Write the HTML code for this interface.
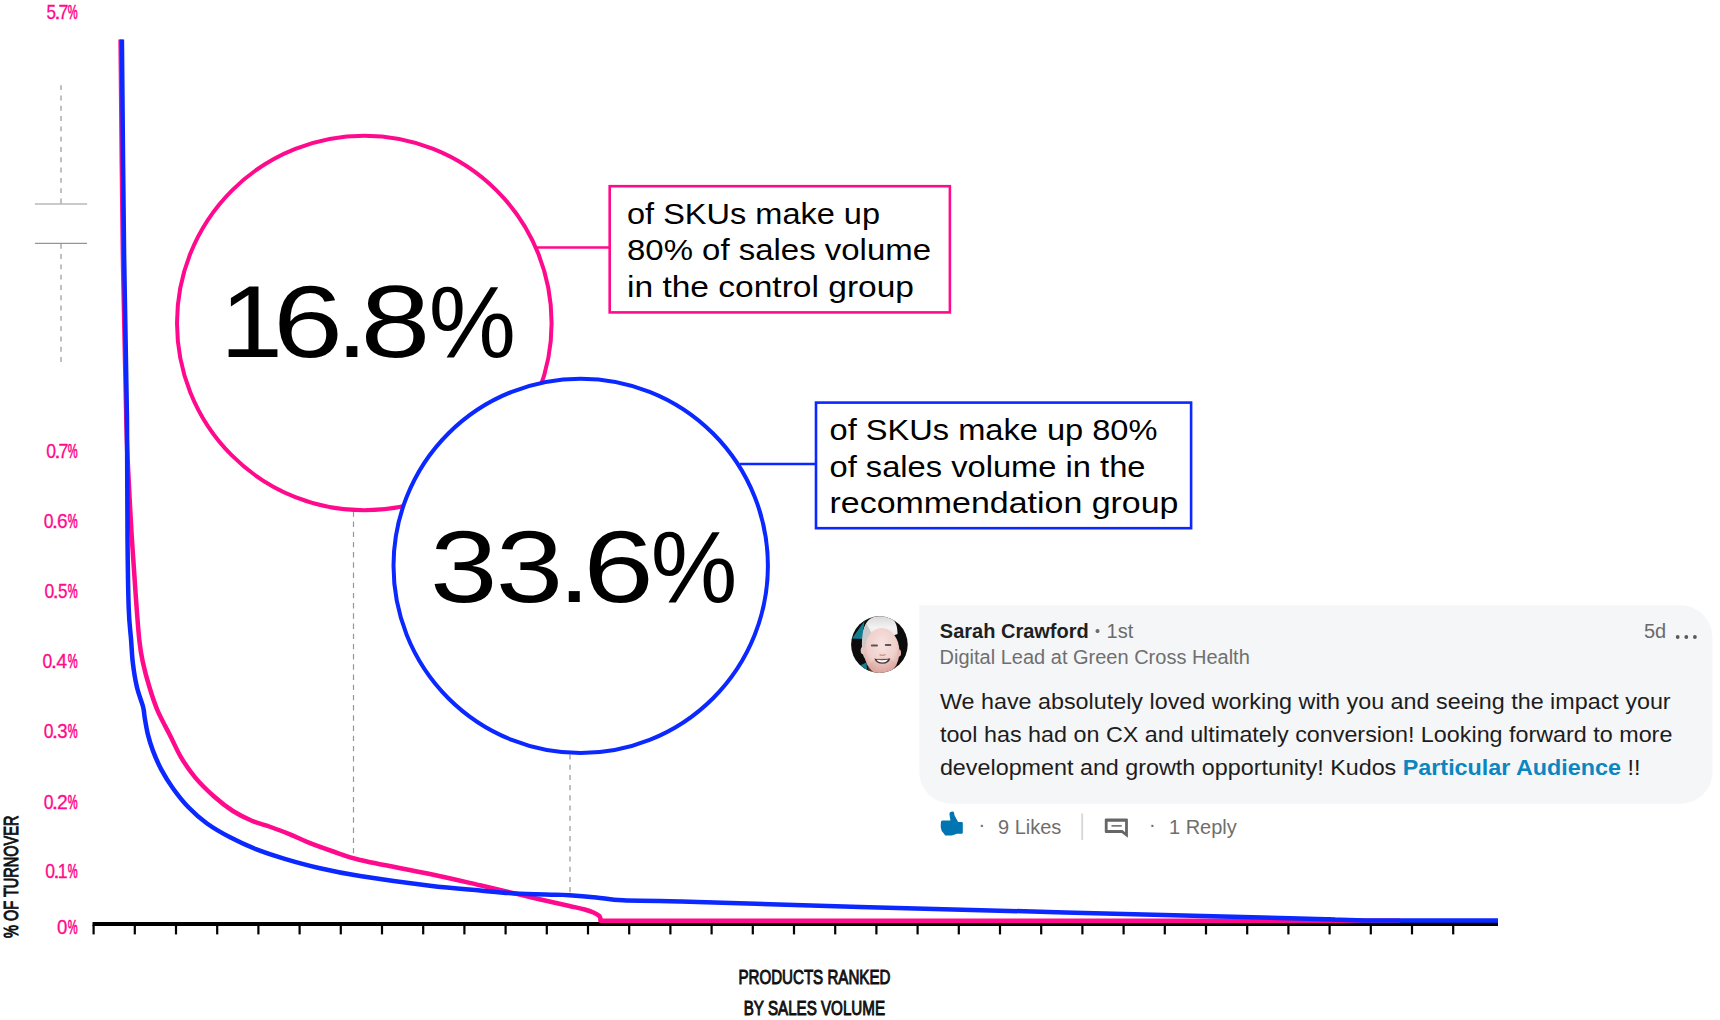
<!DOCTYPE html>
<html lang="en"><head><meta charset="utf-8"><title>Long tail chart</title>
<style>
html,body{margin:0;padding:0;background:#fff;}
body{width:1720px;height:1020px;overflow:hidden;font-family:"Liberation Sans",sans-serif;}
svg{display:block;position:absolute;left:0;top:0;}
svg text{font-family:"Liberation Sans",sans-serif;}
</style></head><body>
<svg width="1720" height="1020" viewBox="0 0 1720 1020">
<rect width="1720" height="1020" fill="#fff"/>

<!-- grey broken-axis marks -->
<g stroke="#969696" stroke-width="1.2" fill="none">
<line x1="61" y1="85.2" x2="61" y2="203.5" stroke-dasharray="4.9 5.4"/>
<line x1="61" y1="243.8" x2="61" y2="363" stroke-dasharray="4.9 5.4"/>
<line x1="34.9" y1="204" x2="87.1" y2="204"/>
<line x1="34.9" y1="243.35" x2="87.1" y2="243.35"/>
<line x1="353.5" y1="511.3" x2="353.5" y2="857" stroke-dasharray="5.4 4.8"/>
<line x1="570" y1="754.5" x2="570" y2="893.5" stroke-dasharray="5.1 5.1"/>
</g>

<!-- axis -->
<g fill="#000">
<rect x="92.5" y="922" width="1405.5" height="4"/>
<rect x="92.50" y="925" width="2.2" height="9.4"/><rect x="133.70" y="925" width="2.2" height="9.4"/><rect x="174.90" y="925" width="2.2" height="9.4"/><rect x="216.10" y="925" width="2.2" height="9.4"/><rect x="257.30" y="925" width="2.2" height="9.4"/><rect x="298.50" y="925" width="2.2" height="9.4"/><rect x="339.70" y="925" width="2.2" height="9.4"/><rect x="380.90" y="925" width="2.2" height="9.4"/><rect x="422.10" y="925" width="2.2" height="9.4"/><rect x="463.30" y="925" width="2.2" height="9.4"/><rect x="504.50" y="925" width="2.2" height="9.4"/><rect x="545.70" y="925" width="2.2" height="9.4"/><rect x="586.90" y="925" width="2.2" height="9.4"/><rect x="628.10" y="925" width="2.2" height="9.4"/><rect x="669.30" y="925" width="2.2" height="9.4"/><rect x="710.50" y="925" width="2.2" height="9.4"/><rect x="751.70" y="925" width="2.2" height="9.4"/><rect x="792.90" y="925" width="2.2" height="9.4"/><rect x="834.10" y="925" width="2.2" height="9.4"/><rect x="875.30" y="925" width="2.2" height="9.4"/><rect x="916.50" y="925" width="2.2" height="9.4"/><rect x="957.70" y="925" width="2.2" height="9.4"/><rect x="998.90" y="925" width="2.2" height="9.4"/><rect x="1040.10" y="925" width="2.2" height="9.4"/><rect x="1081.30" y="925" width="2.2" height="9.4"/><rect x="1122.50" y="925" width="2.2" height="9.4"/><rect x="1163.70" y="925" width="2.2" height="9.4"/><rect x="1204.90" y="925" width="2.2" height="9.4"/><rect x="1246.10" y="925" width="2.2" height="9.4"/><rect x="1287.30" y="925" width="2.2" height="9.4"/><rect x="1328.50" y="925" width="2.2" height="9.4"/><rect x="1369.70" y="925" width="2.2" height="9.4"/><rect x="1410.90" y="925" width="2.2" height="9.4"/><rect x="1452.10" y="925" width="2.2" height="9.4"/>
</g>

<!-- y labels -->
<g fill="#ff0a8c" font-size="20.4" stroke="#ff0a8c" stroke-width="0.3">
<text y="19"><tspan x="46.62" textLength="9.50" lengthAdjust="spacingAndGlyphs">5</tspan><tspan x="54.39" textLength="6.42" lengthAdjust="spacingAndGlyphs">.</tspan><tspan x="58.39" textLength="9.91" lengthAdjust="spacingAndGlyphs">7</tspan><tspan x="67.70" textLength="9.89" lengthAdjust="spacingAndGlyphs" stroke-width="0.7">%</tspan></text>
<text y="458"><tspan x="46.31" textLength="9.77" lengthAdjust="spacingAndGlyphs">0</tspan><tspan x="54.39" textLength="6.42" lengthAdjust="spacingAndGlyphs">.</tspan><tspan x="58.39" textLength="9.91" lengthAdjust="spacingAndGlyphs">7</tspan><tspan x="67.70" textLength="9.89" lengthAdjust="spacingAndGlyphs" stroke-width="0.7">%</tspan></text>
<text y="528"><tspan x="43.71" textLength="9.77" lengthAdjust="spacingAndGlyphs">0</tspan><tspan x="51.79" textLength="6.42" lengthAdjust="spacingAndGlyphs">.</tspan><tspan x="56.93" textLength="10.61" lengthAdjust="spacingAndGlyphs">6</tspan><tspan x="67.70" textLength="9.89" lengthAdjust="spacingAndGlyphs" stroke-width="0.7">%</tspan></text>
<text y="598"><tspan x="44.41" textLength="9.77" lengthAdjust="spacingAndGlyphs">0</tspan><tspan x="52.49" textLength="6.42" lengthAdjust="spacingAndGlyphs">.</tspan><tspan x="57.92" textLength="9.50" lengthAdjust="spacingAndGlyphs">5</tspan><tspan x="67.70" textLength="9.89" lengthAdjust="spacingAndGlyphs" stroke-width="0.7">%</tspan></text>
<text y="668"><tspan x="42.61" textLength="9.77" lengthAdjust="spacingAndGlyphs">0</tspan><tspan x="50.69" textLength="6.42" lengthAdjust="spacingAndGlyphs">.</tspan><tspan x="56.35" textLength="10.93" lengthAdjust="spacingAndGlyphs">4</tspan><tspan x="67.70" textLength="9.89" lengthAdjust="spacingAndGlyphs" stroke-width="0.7">%</tspan></text>
<text y="738"><tspan x="43.71" textLength="9.77" lengthAdjust="spacingAndGlyphs">0</tspan><tspan x="51.79" textLength="6.42" lengthAdjust="spacingAndGlyphs">.</tspan><tspan x="57.19" textLength="10.32" lengthAdjust="spacingAndGlyphs">3</tspan><tspan x="67.70" textLength="9.89" lengthAdjust="spacingAndGlyphs" stroke-width="0.7">%</tspan></text>
<text y="809"><tspan x="43.71" textLength="9.77" lengthAdjust="spacingAndGlyphs">0</tspan><tspan x="51.79" textLength="6.42" lengthAdjust="spacingAndGlyphs">.</tspan><tspan x="56.93" textLength="10.74" lengthAdjust="spacingAndGlyphs">2</tspan><tspan x="67.70" textLength="9.89" lengthAdjust="spacingAndGlyphs" stroke-width="0.7">%</tspan></text>
<text y="878"><tspan x="45.31" textLength="9.77" lengthAdjust="spacingAndGlyphs">0</tspan><tspan x="53.39" textLength="6.42" lengthAdjust="spacingAndGlyphs">.</tspan><tspan x="57.76" textLength="9.80" lengthAdjust="spacingAndGlyphs">1</tspan><tspan x="67.70" textLength="9.89" lengthAdjust="spacingAndGlyphs" stroke-width="0.7">%</tspan></text>
<text y="934"><tspan x="57.07" textLength="10.35" lengthAdjust="spacingAndGlyphs">0</tspan><tspan x="67.70" textLength="9.89" lengthAdjust="spacingAndGlyphs" stroke-width="0.7">%</tspan></text>

</g>
<text transform="translate(18.4 938) rotate(-90)" font-size="19.5" fill="#111" stroke="#111" stroke-width="1" textLength="122.5" lengthAdjust="spacingAndGlyphs">% OF TURNOVER</text>
<g fill="#111" stroke="#111" stroke-width="1" font-size="20" text-anchor="middle">
<text x="814.4" y="984" textLength="152" lengthAdjust="spacingAndGlyphs">PRODUCTS RANKED</text>
<text x="814.4" y="1015.2" textLength="141.3" lengthAdjust="spacingAndGlyphs">BY SALES VOLUME</text>
</g>

<!-- circles -->
<circle cx="364.3" cy="323" r="187.3" fill="#fff" stroke="#ff0a8c" stroke-width="4"/>
<line x1="536" y1="247.6" x2="609" y2="247.6" stroke="#ff0a8c" stroke-width="2.5"/>
<circle cx="580.7" cy="565.85" r="187.2" fill="#fff" stroke="#0a28ff" stroke-width="4"/>
<line x1="740" y1="464" x2="816" y2="464" stroke="#0a28ff" stroke-width="2.5"/>

<!-- curves -->
<path d="M120.60 39.50 C120.98 75.42 121.95 191.58 122.90 255.00 C123.85 318.42 125.45 384.67 126.30 420.00 C127.15 455.33 127.08 447.40 128.00 467.00 C128.92 486.60 130.50 516.02 131.80 537.60 C133.10 559.18 134.55 579.43 135.80 596.50 C137.05 613.57 138.13 629.08 139.30 640.00 C140.47 650.92 141.12 654.17 142.80 662.00 C144.48 669.83 146.93 678.90 149.40 687.00 C151.87 695.10 154.07 702.35 157.60 710.60 C161.13 718.85 166.67 728.67 170.60 736.50 C174.53 744.33 177.08 750.75 181.20 757.60 C185.32 764.45 189.82 771.12 195.30 777.60 C200.78 784.08 207.83 790.93 214.10 796.50 C220.37 802.07 226.62 806.97 232.90 811.00 C239.18 815.03 245.52 818.03 251.80 820.70 C258.08 823.37 264.33 824.77 270.60 827.00 C276.87 829.23 283.13 831.53 289.40 834.10 C295.67 836.67 301.13 839.58 308.20 842.40 C315.27 845.22 323.17 848.07 331.80 851.00 C340.43 853.93 343.63 856.17 360.00 860.00 C376.37 863.83 410.00 869.78 430.00 874.00 C450.00 878.22 466.43 882.20 480.00 885.30 C493.57 888.40 501.32 890.23 511.40 892.60 C521.48 894.97 530.82 897.27 540.50 899.50 C550.18 901.73 562.13 904.33 569.50 906.00 C576.87 907.67 580.62 908.37 584.70 909.50 C588.78 910.63 591.57 911.72 594.00 912.80 C596.43 913.88 598.23 915.05 599.30 916.00 C600.37 916.95 600.22 918.08 600.40 918.50 L600.4 920.7 H1400" fill="none" stroke="#ff0a8c" stroke-width="4.5" stroke-linejoin="round"/>
<path d="M121.90 39.50 C122.27 75.42 123.25 191.58 124.10 255.00 C124.95 318.42 126.43 372.90 127.00 420.00 C127.57 467.10 127.22 506.27 127.50 537.60 C127.78 568.93 128.10 590.93 128.70 608.00 C129.30 625.07 130.40 630.75 131.10 640.00 C131.80 649.25 131.93 655.67 132.90 663.50 C133.87 671.33 135.20 679.75 136.90 687.00 C138.60 694.25 141.80 701.90 143.10 707.00 C144.40 712.10 143.92 713.08 144.70 717.60 C145.48 722.12 146.43 728.60 147.80 734.10 C149.17 739.60 150.67 744.72 152.90 750.60 C155.13 756.48 157.87 763.13 161.20 769.40 C164.53 775.67 168.40 781.93 172.90 788.20 C177.40 794.47 182.52 801.12 188.20 807.00 C193.88 812.88 199.93 818.40 207.00 823.50 C214.07 828.60 222.35 833.28 230.60 837.60 C238.85 841.92 247.48 845.87 256.50 849.40 C265.52 852.93 274.12 855.67 284.70 858.80 C295.28 861.93 307.45 865.33 320.00 868.20 C332.55 871.07 341.67 873.08 360.00 876.00 C378.33 878.92 410.00 883.33 430.00 885.75 C450.00 888.17 465.85 889.23 480.00 890.50 C494.15 891.77 502.30 892.70 514.90 893.40 C527.50 894.10 546.50 894.40 555.60 894.70 C564.70 895.00 562.72 894.75 569.50 895.20 C576.28 895.65 587.38 896.55 596.30 897.40 C605.22 898.25 609.05 899.62 623.00 900.30 C636.95 900.98 640.50 900.38 680.00 901.50 C719.50 902.62 758.33 904.22 860.00 907.00 C961.67 909.78 1211.67 916.13 1290.00 918.20 C1368.33 920.27 1317.50 919.03 1330.00 919.40 C1342.50 919.77 1358.00 920.20 1365.00 920.40 C1372.00 920.60 1369.50 920.57 1372.00 920.60 C1374.50 920.63 1359.00 920.60 1380.00 920.60 C1401.00 920.60 1478.33 920.60 1498.00 920.60" fill="none" stroke="#0a28ff" stroke-width="4.5" stroke-linejoin="round"/>

<!-- big numbers -->
<g fill="#000" font-size="101.2">
<text y="357.1"><tspan x="220.10" textLength="63.00" lengthAdjust="spacingAndGlyphs">1</tspan><tspan x="273.10" textLength="70.06" lengthAdjust="spacingAndGlyphs">6</tspan><tspan x="336.30" textLength="31.48" lengthAdjust="spacingAndGlyphs">.</tspan><tspan x="360.50" textLength="69.83" lengthAdjust="spacingAndGlyphs">8</tspan><tspan x="428.70" textLength="87.19" lengthAdjust="spacingAndGlyphs">%</tspan></text>
<text y="602.1" font-size="102"><tspan x="430.10" textLength="67.48" lengthAdjust="spacingAndGlyphs">3</tspan><tspan x="495.70" textLength="67.48" lengthAdjust="spacingAndGlyphs">3</tspan><tspan x="558.30" textLength="32.05" lengthAdjust="spacingAndGlyphs">.</tspan><tspan x="583.25" textLength="70.63" lengthAdjust="spacingAndGlyphs">6</tspan><tspan x="650.70" textLength="86.55" lengthAdjust="spacingAndGlyphs">%</tspan></text>
</g>

<!-- callout boxes -->
<rect x="609.7" y="186.2" width="340.2" height="126.2" fill="#fff" stroke="#ff0a8c" stroke-width="2.6"/>
<g fill="#000" font-size="29">
<text x="627" y="223.6" textLength="253" lengthAdjust="spacingAndGlyphs">of SKUs make up</text>
<text x="627" y="260.4" textLength="304" lengthAdjust="spacingAndGlyphs">80% of sales volume</text>
<text x="627" y="296.8" textLength="287" lengthAdjust="spacingAndGlyphs">in the control group</text>
</g>
<rect x="816" y="402.6" width="375.1" height="125.6" fill="#fff" stroke="#0a28ff" stroke-width="2.6"/>
<g fill="#000" font-size="29">
<text x="829.5" y="439.7" textLength="328" lengthAdjust="spacingAndGlyphs">of SKUs make up 80%</text>
<text x="829.5" y="476.5" textLength="316" lengthAdjust="spacingAndGlyphs">of sales volume in the</text>
<text x="829.5" y="512.8" textLength="349" lengthAdjust="spacingAndGlyphs">recommendation group</text>
</g>

<!-- LinkedIn comment -->
<path d="M919.3 605.3 H1680.5 A32 32 0 0 1 1712.5 637.3 V771.8 A32 32 0 0 1 1680.5 803.8 H951.3 A32 32 0 0 1 919.3 771.8 Z" fill="#f5f6f8"/>
<defs>
<clipPath id="avc"><circle cx="879.4" cy="644.6" r="28.3"/></clipPath>
<radialGradient id="facegrad" cx="0.5" cy="0.35" r="0.75"><stop offset="0" stop-color="#f7e3e1"/><stop offset="0.55" stop-color="#efcfcb"/><stop offset="1" stop-color="#d08f86"/></radialGradient>
<linearGradient id="hairgrad" x1="0" y1="0" x2="0" y2="1"><stop offset="0" stop-color="#d9d9d9"/><stop offset="0.5" stop-color="#f4f2f2"/><stop offset="1" stop-color="#f2dcd9"/></linearGradient>
</defs>
<g clip-path="url(#avc)">
<rect x="850" y="615" width="60" height="60" fill="#0c0c0c"/>
<path d="M864.5 621 L852 638.5 L862.5 639 L863.5 629 Z" fill="#157c8e"/>
<path d="M861 665 L866.5 662.5 L867 669 L863 669 Z" fill="#157c8e"/>
<path d="M863 640 C862.5 628 866 620 873 617.2 C880 615 888 615.4 892 618.5 C896 621.5 897.5 627 897.6 634 L880 640 Z" fill="url(#hairgrad)"/>
<path d="M862 648 C861.6 637 863 628 866.5 623.5 L873 636 L868 662 C864 659 862.2 654 862 648 Z" fill="#c9c9c9"/>
<ellipse cx="881.8" cy="651.5" rx="17.6" ry="23.5" fill="url(#facegrad)"/>
<ellipse cx="863" cy="650.5" rx="2.3" ry="3.8" fill="#e8c4be"/>
<ellipse cx="899.2" cy="653" rx="1.8" ry="3.4" fill="#e3b9b2"/>
<path d="M868 668 C871 660 877 657.5 882.5 657.5 C889 657.5 894 660 897.5 667 L896 676 L869 676 Z" fill="#d79a92" opacity="0.3"/>
<rect x="870.8" y="644.4" width="7.2" height="2" rx="1" fill="#5a5557"/>
<rect x="884.8" y="644" width="6.6" height="2" rx="1" fill="#5a5557"/>
<path d="M874.3 658.4 Q882.5 660.3 890.4 658.2 Q889 663.6 882.6 663.8 Q876 663.6 874.3 658.4 Z" fill="#4a3436"/>
<path d="M876.6 659.8 Q882.5 660.8 888 659.6 Q886.6 662.4 882.4 662.5 Q878 662.4 876.6 659.8 Z" fill="#fafafa"/>
<path d="M879.5 654.6 Q882.5 656 885.6 654.5" stroke="#c98e86" stroke-width="1.2" fill="none"/>
</g>
<text x="939.8" y="638.4" font-size="20" font-weight="bold" fill="#1f1f1f">Sarah Crawford</text>
<text y="638.4" font-size="20" fill="#6b6b6b"><tspan x="1095.1" dy="-2" font-size="14">•</tspan><tspan x="1106.6" dy="2">1st</tspan></text>
<text x="939.6" y="664" font-size="20" fill="#6f6f6f">Digital Lead at Green Cross Health</text>
<text x="1644" y="638.4" font-size="20" fill="#6b6b6b">5d</text>
<g fill="#5a5a5a"><circle cx="1677.7" cy="637" r="1.9"/><circle cx="1686.3" cy="637" r="1.9"/><circle cx="1694.9" cy="637" r="1.9"/></g>
<g font-size="22.62" fill="#1d1d1d" transform="translate(939.9 0) scale(1.0315 1)">
<text x="0" y="708.9">We have absolutely loved working with you and seeing the impact your</text>
<text x="0" y="741.9">tool has had on CX and ultimately conversion! Looking forward to more</text>
<text x="0" y="774.9">development and growth opportunity! Kudos <tspan font-weight="bold" fill="#0a86c0">Particular Audience</tspan> !!</text>
</g>
<!-- actions -->
<path d="M952.6 811.5 C950.5 811.6 949.2 812.6 949.5 814.5 L950.4 820.4 H942.6 Q940.9 820.6 940.9 822.3 L940.7 827 L941.7 830.9 L943.8 833.6 L945.2 835.4 H951.9 L957 833.8 H962 Q962.8 833.6 962.8 832.5 V822.8 Q962.7 821.9 961.7 821.9 H958.1 L954.6 815.6 L953.9 812.3 Q953.6 811.5 952.6 811.5 Z" fill="#0075b2"/>
<g font-size="20" fill="#6e6e6e">
<text x="978.6" y="831.3">·</text>
<text x="998" y="833.5">9 Likes</text>
<text x="1148.9" y="831.3">·</text>
<text x="1169" y="833.5">1 Reply</text>
</g>
<rect x="1081.3" y="813.4" width="1.8" height="26.6" fill="#d6d6d6"/>
<path fill-rule="evenodd" fill="#666" d="M1104.8 819.6 Q1104.8 818.4 1106 818.4 H1126.7 Q1127.9 818.4 1127.9 819.6 V837.8 L1121.7 832.9 H1106 Q1104.8 832.9 1104.8 831.7 Z M1107.6 821.8 H1125.1 V832.2 L1122.5 830 H1107.6 Z"/>
<rect x="1111.5" y="825" width="10.2" height="1.7" fill="#777"/>
</svg>
</body></html>
